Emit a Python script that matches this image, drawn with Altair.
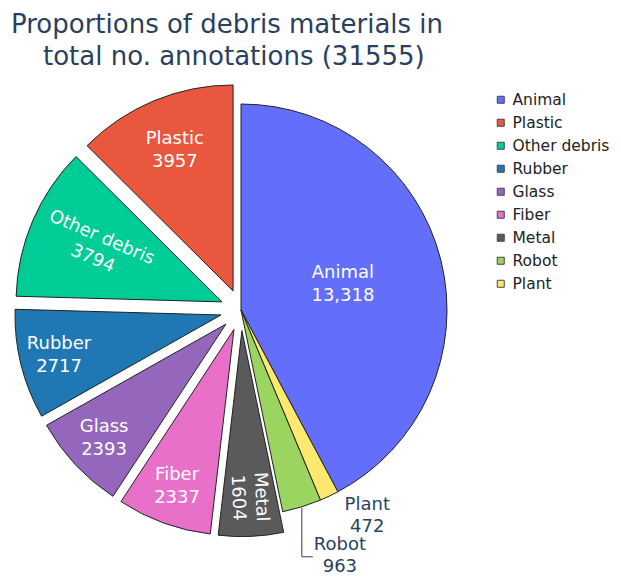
import altair as alt
import pandas as pd

# Slices in clockwise drawing order, starting at 12 o'clock
categories = ["Animal", "Plant", "Robot", "Metal", "Fiber", "Glass", "Rubber", "Other debris", "Plastic"]
counts = [13318, 472, 963, 1604, 2337, 2393, 2717, 3794, 3957]
count_labels = ["13,318", "472", "963", "1604", "2337", "2393", "2717", "3794", "3957"]

legend_order = ["Animal", "Plastic", "Other debris", "Rubber", "Glass", "Fiber", "Metal", "Robot", "Plant"]
legend_colors = ["#636efa", "#e9573e", "#00cc96", "#1f77b4", "#9467bd", "#e870c8", "#5a5a5a", "#9bd45f", "#fde870"]

title_line1 = "Proportions of debris materials in"
title_line2 = "total no. annotations (31555)"

df = pd.DataFrame({
    "category": categories,
    "count": counts,
    "count_label": count_labels,
    "idx": list(range(len(categories))),
})

CX, CY, R = 233, 302, 206
PULL = 0.1
FONT = "DejaVu Sans"

base = alt.Chart(df).transform_joinaggregate(
    total="sum(count)"
).transform_window(
    cum="sum(count)", sort=[alt.SortField("idx")], frame=[None, 0]
).transform_calculate(
    t0="2*PI*(datum.cum-datum.count)/datum.total",
    t1="2*PI*datum.cum/datum.total",
    share="datum.count/datum.total",
).transform_calculate(
    mid="(datum.t0+datum.t1)/2",
    pull=f"indexof(['Animal','Plant','Robot'], datum.category) < 0 ? {PULL} : 0",
).transform_calculate(
    cx=f"{CX} + datum.pull*{R}*sin(datum.mid)",
    cy=f"{CY} - datum.pull*{R}*cos(datum.mid)",
    label="datum.category + '\\n' + datum.count_label",
)

arcs = base.mark_arc(radius=R, stroke="#222", strokeWidth=1).encode(
    x=alt.X("cx:Q", scale=None, axis=None),
    y=alt.Y("cy:Q", scale=None, axis=None),
    theta=alt.Theta("t0:Q", scale=None, stack=None),
    theta2="t1:Q",
    color=alt.Color(
        "category:N",
        scale=alt.Scale(domain=legend_order, range=legend_colors),
        legend=alt.Legend(
            title=None, orient="none", legendX=485, legendY=84,
            symbolType="square", symbolSize=49, symbolStrokeColor="#444",
            symbolStrokeWidth=1, labelFontSize=15.5, labelFont=FONT,
            labelColor="#222", rowPadding=6, labelOffset=4, padding=0,
            labelLimit=200,
        ),
    ),
)

inside = base.transform_filter("datum.share >= 0.04").transform_calculate(
    rf="datum.share > 0.3 ? 0.51 : (datum.category == 'Other debris' ? 0.66 : min(0.81, 1.0 - 2.1*datum.share))",
    middeg="datum.mid*180/PI",
).transform_calculate(
    tx=f"datum.cx + datum.rf*{R}*sin(datum.mid)",
    ty=f"datum.cy - datum.rf*{R}*cos(datum.mid)",
    a0="datum.middeg - 90",
).transform_calculate(
    ang="indexof(['Other debris','Metal'], datum.category) >= 0 ? ((datum.a0 > 90 ? datum.a0 - 180 : datum.a0) + 360) % 360 : 0"
).mark_text(
    color="white", fontSize=18, font=FONT, lineBreak="\n", lineHeight=23,
    align="center", baseline="middle", dy=-11.5,
).encode(
    x=alt.X("tx:Q", scale=None, axis=None),
    y=alt.Y("ty:Q", scale=None, axis=None),
    text="label:N",
    angle=alt.Angle("ang:Q", scale=None),
)

outside_base = base.transform_filter("datum.share < 0.04").transform_window(
    rn="row_number()", sort=[alt.SortField("idx")]
).transform_calculate(
    ex=f"{CX} + {R}*sin(datum.mid)",
    ey=f"{CY} - {R}*cos(datum.mid)",
).transform_calculate(
    lx="datum.ex + 38",
    ly="datum.ey + (datum.rn - 1)*29",
    ey1="datum.ey + 1",
).transform_calculate(
    lmid="datum.ly + 21",
    ex2="datum.ex + 11",
)

outside = outside_base.mark_text(
    color="#2a3f5f", fontSize=18, font=FONT, lineBreak="\n", lineHeight=22,
    align="center", baseline="top",
).encode(
    x=alt.X("lx:Q", scale=None, axis=None),
    y=alt.Y("ly:Q", scale=None, axis=None),
    text="label:N",
)

leaders = outside_base.transform_filter("datum.rn > 1")
vrule = leaders.mark_rule(color="#2a3f5f", strokeWidth=1).encode(
    x=alt.X("ex:Q", scale=None, axis=None),
    y=alt.Y("ey1:Q", scale=None, axis=None),
    y2="lmid:Q",
)
hrule = leaders.mark_rule(color="#2a3f5f", strokeWidth=1).encode(
    x=alt.X("ex:Q", scale=None, axis=None),
    x2="ex2:Q",
    y=alt.Y("lmid:Q", scale=None, axis=None),
)

title_df = pd.DataFrame({"t": [title_line1]})
title1 = alt.Chart(title_df).mark_text(
    fontSize=26, font=FONT, color="#2a3f5f", align="left", baseline="alphabetic",
).encode(text=alt.value(title_line1), x=alt.value(3), y=alt.value(25))
title2 = alt.Chart(title_df).mark_text(
    fontSize=26, font=FONT, color="#2a3f5f", align="left", baseline="alphabetic",
).encode(text=alt.value(title_line2), x=alt.value(35), y=alt.value(57))

chart = alt.layer(arcs, inside, outside, vrule, hrule, title1, title2).properties(
    width=605, height=569, autosize="none", padding=0
).configure_view(stroke=None)

chart.save("out.html", embed_options={"renderer": "svg", "actions": False})
